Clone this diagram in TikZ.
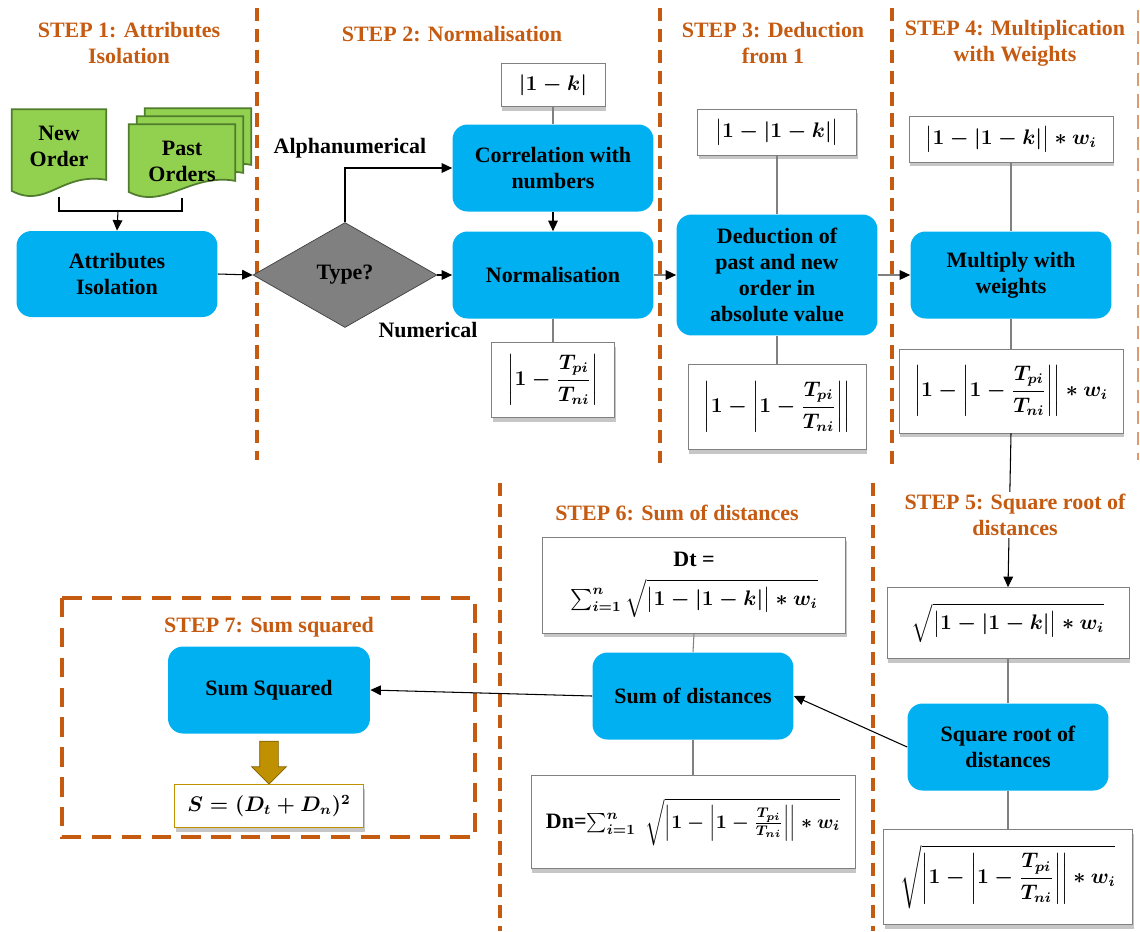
\documentclass[tikz,border=0pt]{standalone}
\usepackage{amsmath}
\usepackage{fontspec}
\setmainfont{Liberation Serif}
\usetikzlibrary{arrows.meta,shapes.geometric,shapes.arrows,shadows,backgrounds}

\definecolor{stepcol}{RGB}{197,90,17}
\definecolor{boxblue}{RGB}{0,176,240}
\definecolor{docgreen}{RGB}{146,208,80}
\definecolor{docedge}{RGB}{80,125,45}
\definecolor{golden}{RGB}{191,144,0}
\definecolor{goldedge}{RGB}{127,96,0}

\newcommand\diagfont{\fontsize{12.5}{14.8}\selectfont\bfseries}
\newcommand\mathfont{\fontsize{12}{14}\selectfont\bfseries\boldmath}

\tikzset{
  process/.style={rectangle, rounded corners=0.3cm, fill=boxblue, minimum width=4.02cm,
    minimum height=1.74cm, align=center, font=\diagfont, inner sep=2pt},
  formula/.style={rectangle, draw=gray, fill=white, align=center, inner sep=2pt, font=\mathfont,
    drop shadow={shadow xshift=0.6pt, shadow yshift=-2.5pt, opacity=0.45}},
  docpage/.style={rectangle, font=\diagfont, align=center, inner sep=0pt},
  docfill/.style={draw=docedge, line width=1pt, fill=docgreen},
  steplabel/.style={text=stepcol, font=\diagfont, align=center, inner sep=1pt},
  divider/.style={draw=stepcol, line width=2pt, dash pattern=on 7.5pt off 4.5pt},
  arr/.style={-{Triangle[length=6pt,width=5.5pt]}, black, line width=0.6pt},
  grayarr/.style={-{Triangle[length=6pt,width=5.5pt,black]}, draw=gray, line width=0.6pt},
  link/.style={draw=gray, line width=0.6pt},
}

\begin{document}
\begin{tikzpicture}[x=0.02cm, y=-0.02cm]
  \useasboundingbox (0,0) rectangle (1140,931);
  \def\docpath#1{(#1.north west) -- (#1.north east) -- ([yshift=0.34cm]#1.south east)
    .. controls ([xshift=-0.9cm,yshift=0.5cm]#1.south east) and ([xshift=0.7cm,yshift=-0.25cm]#1.south west)
    .. ([yshift=0.12cm]#1.south west) -- cycle}

  %A: Dividers
  \draw[divider] (257,8) -- (257,460);
  \draw[divider] (660,8) -- (660,463);
  \draw[divider] (892,8) -- (892,465);
  \draw[divider, line width=0.8pt, draw opacity=0.6] (1138,10) -- (1138,460);
  \draw[divider] (500,483) -- (500,931);
  \draw[divider] (873,483) -- (873,931);
  \draw[divider, line width=2.3pt, dash pattern=on 11pt off 6pt] (62,598) rectangle (475,837);

  %A: Step 1
  \node[docpage, minimum width=1.88cm, minimum height=1.74cm] (neworder) at (59,153) {New\\Order\\[-0.25cm]};
  \node[docpage, minimum width=2.12cm, minimum height=1.46cm] (pastback) at (198,145) {};
  \node[docpage, minimum width=2.12cm, minimum height=1.46cm] (pastmid) at (190,153) {};
  \node[docpage, minimum width=2.12cm, minimum height=1.46cm] (pastorders) at (182,161) {Past\\Orders};
  \coordinate (docjoin) at (118,211);
  \node[process, minimum height=1.72cm] (attr) at (117,274) {Attributes\\Isolation};

  \begin{scope}[on background layer] %A: Document shapes
    \draw[black, line width=0.6pt] (neworder.south) |- (docjoin) -| (pastorders.south);
    \draw[docfill] \docpath{neworder};
    \draw[docfill] \docpath{pastback};
    \draw[docfill] \docpath{pastmid};
    \draw[docfill] \docpath{pastorders};
  \end{scope}

  %A: Step 2
  \node[diamond, draw=black!75, fill=black!50, minimum width=3.68cm, minimum height=2.1cm,
    inner sep=0pt, font=\diagfont] (type) at (345,275) {Type?};
  \node[font=\diagfont] (alpha) at (350,148) {Alphanumerical};
  \node[font=\diagfont] (numer) at (428,330) {Numerical};
  \node[process] (corr) at (553,168) {Correlation with\\numbers};
  \node[process] (norm) at (553,275) {Normalisation};
  \node[formula, minimum width=2.08cm, minimum height=0.86cm] (kone) at (553,85) {$|1-k|$};
  \node[formula, minimum width=2.46cm, minimum height=1.5cm] (tone) at (553,380)
    {$\left|1-\dfrac{T_{pi}}{T_{ni}}\right|$};

  %A: Step 3
  \node[process, minimum height=2.42cm] (ded) at (777,275)
    {Deduction of\\past and new\\order in\\absolute value};
  \node[formula, minimum width=3.18cm, minimum height=0.92cm] (ktwo) at (777,132) {$\bigl|1-|1-k|\bigr|$};
  \node[formula, minimum width=3.56cm, minimum height=1.7cm] (ttwo) at (777,407)
    {$\left|1-\left|1-\dfrac{T_{pi}}{T_{ni}}\right|\right|$};

  %A: Step 4
  \node[process] (mult) at (1011,275) {Multiply with\\weights};
  \node[formula, minimum width=4.08cm, minimum height=0.92cm] (kthree) at (1011,139)
    {$\bigl|1-|1-k|\bigr|\ast w_i$};
  \node[formula, minimum width=4.48cm, minimum height=1.68cm] (tthree) at (1011,391)
    {$\left|1-\left|1-\dfrac{T_{pi}}{T_{ni}}\right|\right|\ast w_i$};

  %A: Step 5
  \node[formula, minimum width=4.84cm, minimum height=1.42cm] (kfour) at (1008,623)
    {$\sqrt{\bigl|1-|1-k|\bigr|\ast w_i}$};
  \node[process] (sqrtd) at (1008,747) {Square root of\\distances};
  \node[formula, minimum width=4.98cm, minimum height=1.9cm] (tfour) at (1008,877)
    {$\sqrt{\left|1-\left|1-\dfrac{T_{pi}}{T_{ni}}\right|\right|\ast w_i}$};

  %A: Step 6
  \node[process] (sumd) at (693,696) {Sum of distances};
  \node[formula, minimum width=6.06cm, minimum height=1.92cm] (dt) at (694,585)
    {{\diagfont Dt =}\\[6pt] $\textstyle\sum_{i=1}^{n}\sqrt{\bigl|1-|1-k|\bigr|\ast w_i}$};
  \node[formula, minimum width=6.48cm, minimum height=1.86cm,
    font=\fontsize{11.3}{14}\selectfont\bfseries\boldmath] (dn) at (693,822)
    {{\diagfont Dn=}$\textstyle\sum_{i=1}^{n}\;\sqrt{\left|1-\left|1-\tfrac{T_{pi}}{T_{ni}}\right|\right|\ast w_i}$};

  %A: Step 7
  \node[process, minimum width=4.04cm] (sumsq) at (269,690) {Sum Squared};
  \node[single arrow, shape border rotate=270, fill=golden, draw=goldedge, inner sep=0.18cm,
    minimum width=0.68cm, minimum height=0.86cm, single arrow head extend=0.16cm] (sqarrow) at (269,758) {};
  \node[formula, draw=golden, minimum width=3.78cm, minimum height=0.86cm] (result) at (269,806)
    {$S=(D_t+D_n)^2$};

  %A: Connectors
  \draw[arr] (docjoin) -- (attr.north);
  \draw[arr] (attr.east) -- (type.west);
  \draw[arr] (type.east) -- (norm.west);
  \draw[arr] (type.north) |- (corr.west);
  \draw[arr] (corr.south) -- (norm.north);
  \draw[link] (kone.south) -- (corr.north);
  \draw[link] (norm.south) -- (tone.north);
  \draw[grayarr] (norm.east) -- (ded.west);
  \draw[link] (ktwo.south) -- (ded.north);
  \draw[link] (ded.south) -- (ttwo.north);
  \draw[grayarr] (ded.east) -- (mult.west);
  \draw[link] (kthree.south) -- (mult.north);
  \draw[link] (mult.south) -- (tthree.north);
  \draw[arr] (tthree.south) -- (kfour.north);
  \draw[link] (kfour.south) -- (sqrtd.north);
  \draw[link] (sqrtd.south) -- (tfour.north);
  \draw[arr] (sqrtd.west) -- (sumd.east);
  \draw[link] (dt.south) -- (sumd.north);
  \draw[link] (sumd.south) -- (dn.north);
  \draw[arr] (sumd.west) -- (sumsq.east);

  %A: Step titles
  \node[steplabel] (stepone) at (129,43) {STEP 1: Attributes\\Isolation};
  \node[steplabel] (steptwo) at (452,34) {STEP 2: Normalisation};
  \node[steplabel] (stepthree) at (773,43) {STEP 3: Deduction\\from 1};
  \node[steplabel] (stepfour) at (1015,43) {STEP 4: Multiplication\\with Weights};
  \node[steplabel, fill=white] (stepfive) at (1015,515) {STEP 5: Square root of\\distances};
  \node[steplabel] (stepsix) at (677,513) {STEP 6: Sum of distances};
  \node[steplabel] (stepseven) at (269,627) {STEP 7: Sum squared};
\end{tikzpicture}
\end{document}
